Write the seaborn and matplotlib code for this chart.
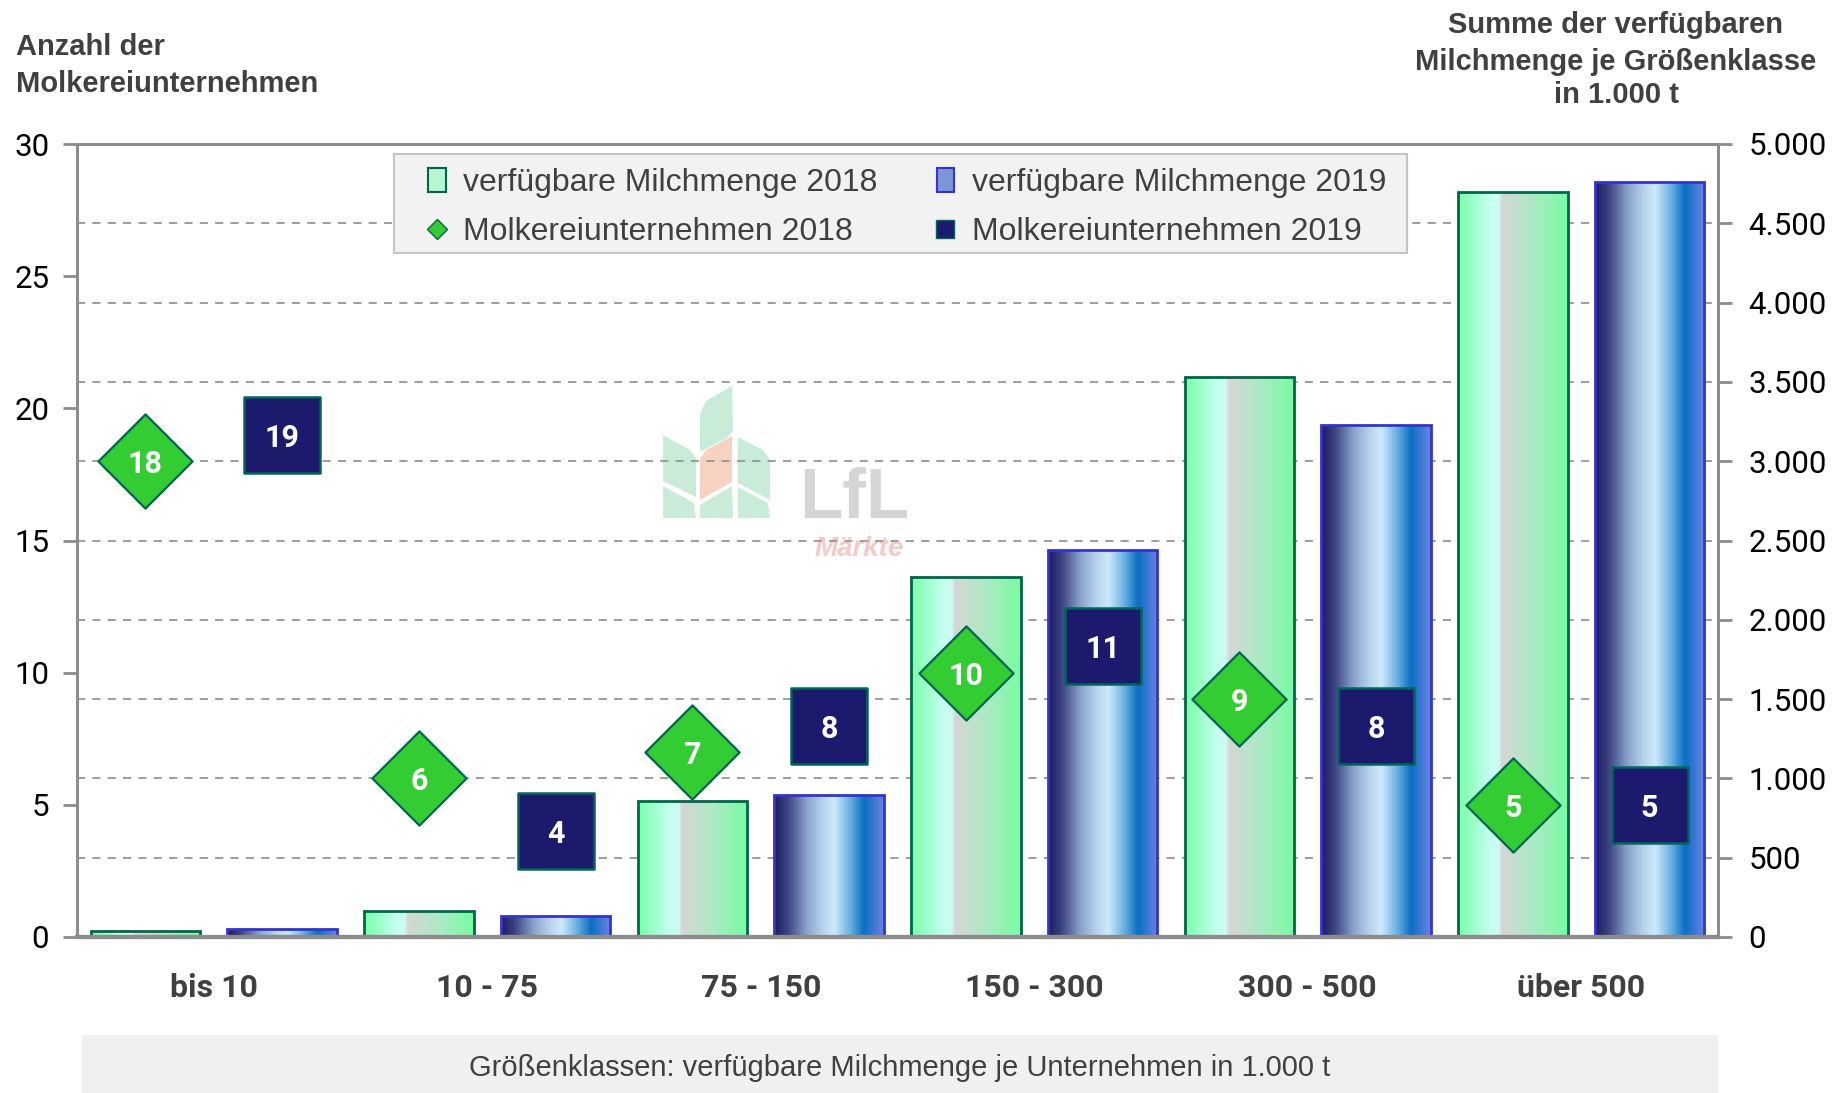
import numpy as np
import pandas as pd
import matplotlib
matplotlib.use("Agg")
import matplotlib.pyplot as plt
import seaborn as sns
from matplotlib.colors import LinearSegmentedColormap
from matplotlib.patches import Patch, Polygon, Rectangle
from matplotlib.lines import Line2D
from matplotlib.ticker import FuncFormatter, MultipleLocator

# %%
# Data
categories = ["bis 10", "10 - 75", "75 - 150", "150 - 300", "300 - 500", "über 500"]
years = ["2018", "2019"]
milk_2018 = [37, 163, 860, 2270, 3530, 4695]      # verfügbare Milchmenge, 1.000 t
milk_2019 = [52, 133, 895, 2440, 3230, 4760]
dairies_2018 = [18, 6, 7, 10, 9, 5]               # Anzahl Molkereiunternehmen
dairies_2019 = [19, 4, 8, 11, 8, 5]

sns.set_style("white")
plt.rcParams["font.family"] = ["Liberation Sans", "DejaVu Sans"]
DIGIT_FONT = ["Roboto", "Liberation Sans", "DejaVu Sans"]   # "1" without foot, like Arial

GREY_TXT = "#404040"
AXIS_GREY = "#8c8c8c"

df_bars = pd.DataFrame({
    "klasse": categories * 2,
    "jahr": [years[0]] * len(categories) + [years[1]] * len(categories),
    "menge": milk_2018 + milk_2019,
})

# %%
W, H = 1845, 1093
fig = plt.figure(figsize=(W / 100, H / 100), dpi=100)
fig.patch.set_facecolor("white")

ax_left, ax_right, ax_top, ax_bot = 77, 1718, 144, 937
ax = fig.add_axes([ax_left / W, 1 - ax_bot / H, (ax_right - ax_left) / W, (ax_bot - ax_top) / H])
ax2 = ax.twinx()

# watermark (behind everything)
wm = fig.add_axes([650 / W, 1 - 575 / H, 270 / W, 200 / H])
wm.set_xlim(650, 920)
wm.set_ylim(575, 375)
wm.axis("off")
leaf_green = "#c9ecd9"
leaves = [
    [(700, 414), (706, 401), (732, 386), (733, 430), (727, 438), (700, 452)],
    [(663, 435), (690, 450), (696, 458), (696, 497), (663, 481)],
    [(663, 486), (694, 503), (696, 518), (663, 518)],
    [(738, 437), (763, 450), (770, 460), (770, 500), (738, 483)],
    [(738, 487), (768, 503), (770, 518), (738, 518)],
    [(700, 505), (732, 486), (733, 518), (700, 518)],
]
for pts in leaves:
    wm.add_patch(Polygon(pts, closed=True, facecolor=leaf_green, edgecolor="none"))
wm.add_patch(Polygon([(700, 458), (706, 450), (732, 436), (732, 482), (700, 500)],
                     closed=True, facecolor="#f7d2c3", edgecolor="none"))
wm.text(799, 518, "LfL", fontsize=51, fontweight="bold", color="#d5d5d5", va="baseline")
wm.text(815, 556, "Märkte", fontsize=20, fontweight="bold", style="italic",
        color="#f6c9c9", va="baseline")

wm.set_zorder(0)
ax2.set_zorder(1)
ax.set_zorder(2)
ax.patch.set_visible(False)
ax2.patch.set_visible(False)

# %%
# bars on the right axis
sns.barplot(data=df_bars, x="klasse", y="menge", hue="jahr", order=categories,
            hue_order=years, palette=["#9af5c0", "#6d86cc"], width=1.0, gap=0.2,
            errorbar=None, legend=False, linewidth=2, ax=ax2)

cmap18 = LinearSegmentedColormap.from_list("g18", [
    (0.0, "#78ffa8"), (0.30, "#c6fff2"), (0.37, "#ccfcf2"), (0.40, "#d6d6d6"),
    (0.70, "#a9ebc3"), (1.0, "#78fba3")])
cmap19 = LinearSegmentedColormap.from_list("b19", [
    (0.0, "#1c1c62"), (0.12, "#3b4280"), (0.30, "#8aa5cc"), (0.45, "#b9d5ee"),
    (0.55, "#cde9fc"), (0.70, "#64ade0"), (0.82, "#0b6fc4"), (1.0, "#6c82e2")])
grad = np.linspace(0, 1, 256).reshape(1, -1)
edges = ["#00664a", "#3434cc"]
for cont, cmap, ec in zip(ax2.containers, [cmap18, cmap19], edges):
    for bar in cont:
        x0, w, h = bar.get_x(), bar.get_width(), bar.get_height()
        im = ax2.imshow(grad, cmap=cmap, extent=[x0, x0 + w, 0, h], aspect="auto",
                        origin="lower", zorder=0.9, interpolation="bilinear")
        im.set_clip_path(bar)
        bar.set_facecolor("none")
        bar.set_edgecolor(ec)
        bar.set_zorder(1)

# markers on the left axis
xpos = np.arange(len(categories))
sns.scatterplot(x=xpos - 0.25, y=dairies_2018, marker="D", s=2300, color="#33cc33",
                edgecolor="#00664f", linewidth=1.6, ax=ax, zorder=5, legend=False)
sns.scatterplot(x=xpos + 0.25, y=dairies_2019, marker="s", s=3000, color="#1c1a6c",
                edgecolor="#00665a", linewidth=1.8, ax=ax, zorder=5, legend=False)
for xs, vals in ((xpos - 0.25, dairies_2018), (xpos + 0.25, dairies_2019)):
    for x, v in zip(xs, vals):
        ax.annotate(str(v), (x, v), xytext=(0, -2.2), textcoords="offset points",
                    ha="center", va="center", color="white", fontsize=22,
                    fontweight="bold", family=DIGIT_FONT, zorder=6)

# %%
# axes styling
ax.set_xlim(-0.5, len(categories) - 0.5)
ax.set_ylim(0, 30)
ax2.set_ylim(0, 5000)
ax.yaxis.set_major_locator(MultipleLocator(5))
ax2.yaxis.set_major_locator(MultipleLocator(500))
ax2.yaxis.set_major_formatter(FuncFormatter(lambda v, p: f"{v:,.0f}".replace(",", ".")))

ax2.yaxis.grid(True, linestyle=(0, (4.5, 4)), color="#959595", linewidth=1.3)
ax2.set_axisbelow(True)
ax.grid(False)
ax2.xaxis.grid(False)

for a in (ax, ax2):
    a.set_xlabel("")
    a.set_ylabel("")
    for s in a.spines.values():
        s.set_color(AXIS_GREY)
        s.set_linewidth(2)
    a.spines["bottom"].set_linewidth(3)
    a.tick_params(axis="y", direction="out", length=10, width=2, color=AXIS_GREY,
                  labelsize=22.5, labelcolor="black")
    for lab in a.get_yticklabels():
        lab.set_family(DIGIT_FONT)
ax.tick_params(axis="y", pad=10)
ax2.tick_params(axis="y", pad=12)

ax.set_xticks(xpos)
ax.set_xticklabels(categories, fontsize=23, fontweight="bold", color=GREY_TXT,
                   family=DIGIT_FONT)
ax.tick_params(axis="x", length=0, pad=26)

# legend: background box drawn separately, entries placed on top of it
ax.add_patch(Rectangle((394 / W, 1 - 253 / H), (1407 - 394) / W, 99 / H,
                       transform=fig.transFigure, facecolor="#f2f2f2",
                       edgecolor="#c4c4c4", linewidth=1.5, zorder=9, clip_on=False))
handles = [
    Patch(facecolor="#b5f7d0", edgecolor="#00664a", linewidth=1.5, label="verfügbare Milchmenge 2018"),
    Line2D([], [], marker="D", linestyle="none", markersize=10, markerfacecolor="#33cc33",
           markeredgecolor="#00664f", label="Molkereiunternehmen 2018"),
    Patch(facecolor="#7d94d8", edgecolor="#3434cc", linewidth=1.5, label="verfügbare Milchmenge 2019"),
    Line2D([], [], marker="s", linestyle="none", markersize=13, markerfacecolor="#1c1a6c",
           markeredgecolor="#00665a", label="Molkereiunternehmen 2019"),
]
leg = ax.legend(handles=handles, ncol=2, loc="upper left",
                bbox_to_anchor=(428 / W, 1 - 168 / H), bbox_transform=fig.transFigure,
                fontsize=23, frameon=False, handlelength=0.55, handleheight=0.8,
                handletextpad=0.55, columnspacing=1.85, labelspacing=0.58,
                borderpad=0, borderaxespad=0)
for t in leg.get_texts():
    t.set_color(GREY_TXT)
leg.set_zorder(10)

# %%
# titles and x-axis caption
fig.text(16 / W, 1 - 55 / H, "Anzahl der", fontsize=21, fontweight="bold",
         color=GREY_TXT, va="baseline", ha="left")
fig.text(16 / W, 1 - 92 / H, "Molkereiunternehmen", fontsize=21, fontweight="bold",
         color=GREY_TXT, va="baseline", ha="left")
for txt, yb in zip(["Summe der verfügbaren", "Milchmenge je Größenklasse", "in 1.000 t"],
                   [33, 70, 103]):
    fig.text(1616 / W, 1 - yb / H, txt, fontsize=21, fontweight="bold",
             color=GREY_TXT, va="baseline", ha="center")

fig.add_artist(Rectangle((82 / W, 0), (1718 - 82) / W, 58 / H, transform=fig.transFigure,
                         facecolor="#f0f0f0", edgecolor="none", zorder=0))
fig.text((82 + 1718) / 2 / W, 1 - 1068 / H,
         "Größenklassen: verfügbare Milchmenge je Unternehmen in 1.000 t",
         fontsize=21, color=GREY_TXT, ha="center", va="center")

fig.savefig("out.png", dpi=100, facecolor="white")
